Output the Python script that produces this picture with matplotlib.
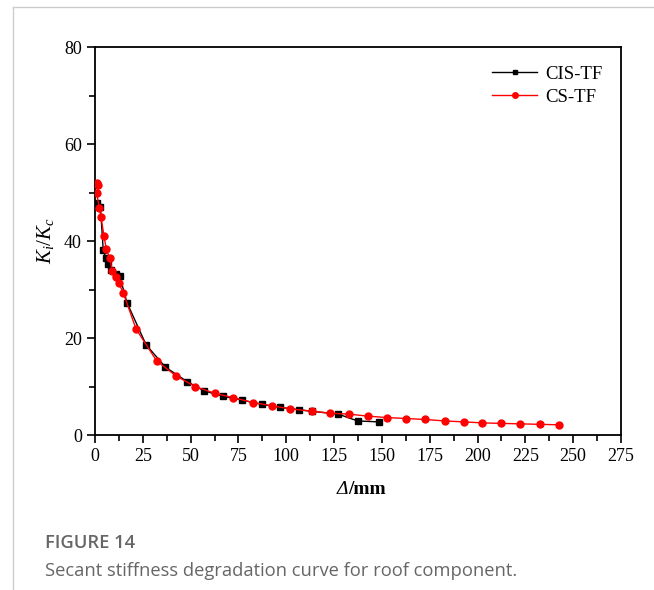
import matplotlib
matplotlib.use('Agg')
import matplotlib.pyplot as plt
from matplotlib.lines import Line2D
from matplotlib.ticker import MultipleLocator

plt.rcParams['font.family'] = 'Liberation Serif'
plt.rcParams['mathtext.fontset'] = 'custom'
plt.rcParams['mathtext.rm'] = 'Liberation Serif'
plt.rcParams['mathtext.it'] = 'Liberation Serif:italic'
plt.rcParams['mathtext.bf'] = 'Liberation Serif:bold'

# CIS-TF series
cis_x = [0.9, 2.8, 4.3, 5.6, 7.0, 8.5, 11.1, 12.9, 16.7, 26.7, 36.8, 48.2,
         57.1, 66.9, 76.8, 87.3, 96.7, 106.8, 113.3, 127.2, 137.3, 148.6]
cis_y = [47.8, 47.1, 38.1, 36.6, 35.3, 34.0, 33.3, 32.8, 27.3, 18.6, 14.0, 11.0,
         9.1, 8.0, 7.2, 6.3, 5.7, 5.2, 4.9, 4.3, 2.9, 2.7]

# CS-TF series
cs_x = [0.9, 1.7, 0.9, 2.2, 3.1, 4.7, 5.9, 7.7, 9.0, 10.8, 12.4, 14.8, 21.4,
        32.2, 42.3, 52.3, 62.6, 72.3, 82.6, 92.7, 101.9, 113.3, 122.8, 132.9,
        142.5, 152.5, 162.6, 172.5, 183.0, 193.0, 202.5, 212.1, 222.2, 232.6, 242.7]
cs_y = [52.0, 51.5, 49.8, 46.9, 45.0, 41.0, 38.3, 36.4, 33.9, 32.5, 31.3, 29.3, 21.9,
        15.3, 12.2, 10.0, 8.6, 7.7, 6.7, 6.0, 5.4, 4.9, 4.5, 4.3,
        3.9, 3.6, 3.4, 3.2, 2.9, 2.7, 2.5, 2.4, 2.3, 2.2, 2.1]

xticks = [0, 25, 50, 75, 100, 125, 150, 175, 200, 225, 250, 275]
yticks = [0, 20, 40, 60, 80]

fig = plt.figure(figsize=(6.54, 5.9), dpi=100)
ax = fig.add_axes([0.1453, 0.2627, 0.8042, 0.6576])

ax.plot(cis_x, cis_y, color='black', linewidth=1.0, marker='s', markersize=4,
        label='CIS-TF', zorder=3)
ax.plot(cs_x, cs_y, color='red', linewidth=1.0, marker='o', markersize=5,
        label='CS-TF', zorder=4)

ax.set_xlim(0, 275)
ax.set_ylim(0, 80)
ax.set_xticks(xticks)
ax.set_yticks(yticks)
ax.xaxis.set_minor_locator(MultipleLocator(12.5))
ax.yaxis.set_minor_locator(MultipleLocator(10))
ax.tick_params(which='major', direction='out', length=6, width=1.2, labelsize=13,
               top=False, right=False)
ax.tick_params(which='minor', direction='out', length=4, width=1.2,
               top=False, right=False)
for s in ax.spines.values():
    s.set_linewidth(1.3)

# x label: italic Delta + bold "/mm"
lab_x = 348 / 654
lab_y = 1 - 490 / 590
fig.text(lab_x, lab_y, 'Δ', fontsize=14, style='italic', ha='right', va='center')
fig.text(lab_x, lab_y, '/mm', fontsize=14, fontweight='bold', ha='left', va='center')
ax.set_ylabel(r'$K_i/K_c$', fontsize=15, labelpad=6)

ax.legend(loc='upper right', frameon=False, fontsize=13.5, handlelength=2.4,
          borderaxespad=0.6, handletextpad=0.4, labelspacing=0.3, markerscale=0.8)

# journal panel border
fig.add_artist(Line2D([13 / 654, 1], [1 - 7 / 590, 1 - 7 / 590], color='#cccccc', linewidth=1))
fig.add_artist(Line2D([13 / 654, 13 / 654], [0, 1 - 7 / 590], color='#cccccc', linewidth=1))

fig.text(45 / 654, 1 - 543 / 590, 'FIGURE 14', fontsize=13.2, family='Open Sans',
         fontweight='semibold', color='#666666', va='center', ha='left')
fig.text(45 / 654, 1 - 571 / 590, 'Secant stiffness degradation curve for roof component.',
         fontsize=13.2, family='Open Sans', color='#666666', va='center', ha='left')

fig.savefig('out.png', dpi=100, facecolor='white')
